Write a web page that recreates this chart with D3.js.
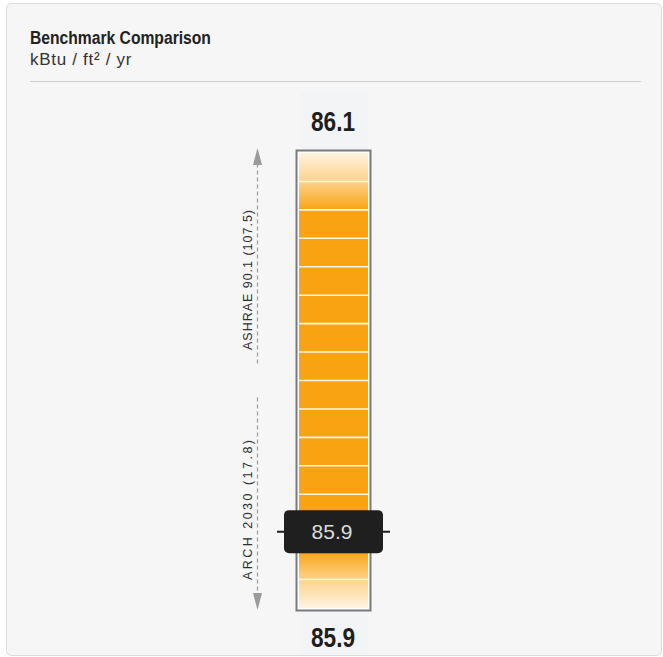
<!DOCTYPE html>
<html>
<head>
<meta charset="utf-8">
<script src="https://cdn.jsdelivr.net/npm/d3@7"></script>
<style>
  html, body { margin: 0; padding: 0; background: #ffffff; }
  svg { display: block; }
</style>
</head>
<body>
<svg id="chart" width="663" height="657"></svg>
<script>
// Benchmark gauge: scale bounds, current reading, and the two benchmark references
const scaleBounds = [85.86, 86.14];          // [bottom, top] of the gauge
const currentValue = [85.907];               // building's reading
const benchmarkNames = ["ASHRAE 90.1", "ARCH 2030"];
const benchmarkValues = [107.5, 17.8];
const segmentCount = 16;
const titleText = "Benchmark Comparison";
const unitText = "kBtu / ft\u00b2 / yr";

const fmt = d3.format(".1f");
const sans = "'Liberation Sans', Arial, sans-serif";

const svg = d3.select("#chart");

// Narrow bold text: regular sans squeezed horizontally
function narrowText(parent, x, y, sx, anchor) {
  return parent.append("text")
    .attr("transform", `translate(${x},${y}) scale(${sx},1)`)
    .attr("text-anchor", anchor)
    .attr("font-family", sans).attr("font-weight", "bold");
}

// Panel
svg.append("rect")
  .attr("x", 6.5).attr("y", 3.5).attr("width", 655).attr("height", 652)
  .attr("rx", 5).attr("fill", "#f6f6f6").attr("stroke", "#dcdcdc");

narrowText(svg, 30, 43.5, 0.87, "start")
  .attr("font-size", 18).attr("fill", "#222").text(titleText);
svg.append("text").attr("x", 30).attr("y", 64.5)
  .attr("font-family", sans).attr("font-size", 17).attr("letter-spacing", 0.7)
  .attr("fill", "#333").text(unitText);
svg.append("line").attr("x1", 30).attr("x2", 641).attr("y1", 81.5).attr("y2", 81.5)
  .attr("stroke", "#cfcfcf").attr("stroke-width", 1);

// Faint column behind the gauge
svg.append("rect").attr("x", 300).attr("y", 91).attr("width", 68).attr("height", 564)
  .attr("fill", "#f3f4f6");

// Gauge geometry
const barX = 297, barW = 73;
const innerTop = 153, innerBottom = 608;
const y = d3.scaleLinear().domain(scaleBounds).range([innerBottom, innerTop]);
const cx = barX + barW / 2;

// Gradient: pale ends, saturated orange through the middle
const defs = svg.append("defs");
const grad = defs.append("linearGradient").attr("id", "gaugeFill")
  .attr("x1", 0).attr("x2", 0).attr("y1", 0).attr("y2", 1);
[[0, "#fff3de"], [0.0625, "#fdd28a"], [0.125, "#f9a313"], [0.875, "#f9a313"],
 [0.9375, "#fdd28a"], [1, "#fff4e2"]].forEach(([o, c]) =>
  grad.append("stop").attr("offset", o).attr("stop-color", c));

// Outer frame
svg.append("rect")
  .attr("x", barX - 0.5).attr("y", y(scaleBounds[1]) - 2.5)
  .attr("width", barW + 1).attr("height", y(scaleBounds[0]) - y(scaleBounds[1]) + 5)
  .attr("fill", "#fdfdfd").attr("stroke", "#7a7a7a").attr("stroke-width", 2);

svg.append("rect")
  .attr("x", barX + 2).attr("y", y(scaleBounds[1]))
  .attr("width", barW - 4).attr("height", y(scaleBounds[0]) - y(scaleBounds[1]))
  .attr("fill", "url(#gaugeFill)");

// Segment dividers
const step = (scaleBounds[1] - scaleBounds[0]) / segmentCount;
const dividers = d3.range(1, segmentCount).map(i => scaleBounds[0] + i * step);
svg.append("g").selectAll("line").data(dividers).join("line")
  .attr("x1", barX + 2).attr("x2", barX + barW - 2)
  .attr("y1", d => y(d)).attr("y2", d => y(d))
  .attr("stroke", "#fff6e6").attr("stroke-width", 1.6);

// Top / bottom value labels
narrowText(svg, cx - 0.5, y(scaleBounds[1]) - 22, 0.84, "middle")
  .attr("font-size", 27).attr("fill", "#1e1e1e").text(fmt(scaleBounds[1]));
narrowText(svg, cx - 0.5, y(scaleBounds[0]) + 39, 0.84, "middle")
  .attr("font-size", 27).attr("fill", "#1e1e1e").text(fmt(scaleBounds[0]));

// Benchmark arrows on the left
const arrowX = 257.5;
const mid = (innerTop + innerBottom) / 2;
const arrows = [
  { name: benchmarkNames[0], value: benchmarkValues[0], y1: mid - 17, y2: innerTop - 5, dir: -1 },
  { name: benchmarkNames[1], value: benchmarkValues[1], y1: mid + 17, y2: innerBottom + 2, dir: 1 }
];
const ag = svg.append("g");
arrows.forEach(a => {
  const headLen = 17, headW = 4.5;
  const tipY = a.y2;
  const baseY = tipY - a.dir * headLen;
  ag.append("line").attr("x1", arrowX).attr("x2", arrowX)
    .attr("y1", a.y1).attr("y2", baseY)
    .attr("stroke", "#9a9a9a").attr("stroke-width", 1.2).attr("stroke-dasharray", "4,3");
  ag.append("path")
    .attr("d", `M${arrowX},${tipY} L${arrowX - headW},${baseY} L${arrowX + headW},${baseY} Z`)
    .attr("fill", "#9a9a9a");
  // label reads upward, starting just short of the lower end of its line
  const startY = a.dir < 0 ? a.y1 - 13.5 : baseY - 13;
  ag.append("text")
    .attr("transform", `translate(${arrowX - 6},${startY}) rotate(-90)`)
    .attr("text-anchor", "start")
    .attr("font-family", sans).attr("font-size", 12.5)
    .attr("textLength", 140).attr("lengthAdjust", "spacing")
    .attr("fill", "#2e2e2e")
    .text(`${a.name} (${fmt(a.value)})`);
});

// Current-value marker
const my = y(currentValue[0]);
const mg = svg.append("g");
mg.append("line").attr("x1", 277).attr("x2", 390).attr("y1", my).attr("y2", my)
  .attr("stroke", "#1e1e1e").attr("stroke-width", 2);
mg.append("rect").attr("x", 284).attr("y", my - 21.5).attr("width", 99).attr("height", 43)
  .attr("rx", 5).attr("fill", "#1f1f1f");
mg.append("text").attr("x", cx - 1.5).attr("y", my + 7.5)
  .attr("text-anchor", "middle").attr("font-family", sans).attr("font-size", 21)
  .attr("fill", "#dcdcdc").text(fmt(currentValue[0]));
</script>
</body>
</html>
